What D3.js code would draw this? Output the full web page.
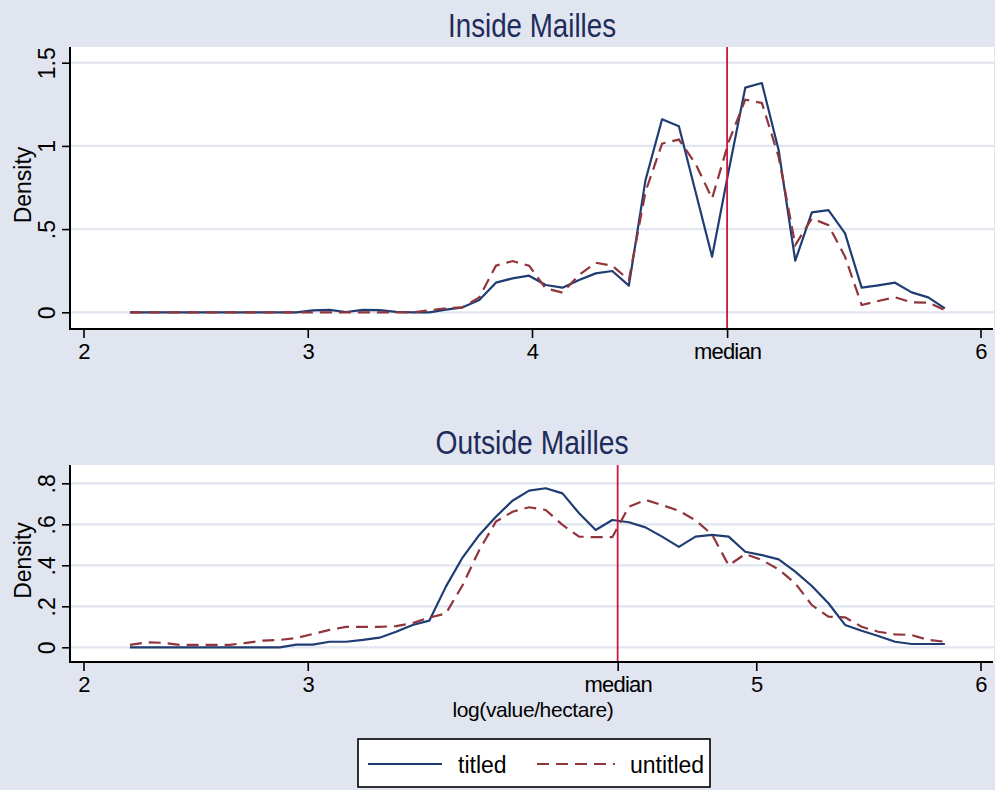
<!DOCTYPE html>
<html>
<head>
<meta charset="utf-8">
<script src="https://cdn.jsdelivr.net/npm/d3@7"></script>
<style>
	body { margin: 0; background: #e0e5ef; }
	svg { display: block; font-family: "Liberation Sans", Arial, sans-serif; }
</style>
</head>
<body>
<svg width="995" height="790"></svg>
<script>
// evaluation grid of the density estimates (log value per hectare)
var xGrid = [2.207, 2.282, 2.356, 2.430, 2.504, 2.578, 2.652, 2.727, 2.801, 2.875,
	2.949, 3.023, 3.097, 3.171, 3.246, 3.320, 3.394, 3.468, 3.542, 3.616,
	3.691, 3.765, 3.839, 3.913, 3.987, 4.061, 4.136, 4.210, 4.284, 4.358,
	4.432, 4.506, 4.580, 4.655, 4.729, 4.803, 4.877, 4.951, 5.025, 5.100,
	5.174, 5.248, 5.322, 5.396, 5.470, 5.544, 5.619, 5.693, 5.767, 5.841];

// inside mailles
var insideTitled = [0, 0, 0, 0, 0, 0, 0, 0, 0, 0,
	0, 0.012, 0.015, 0.002, 0.015, 0.013, 0.002, 0, 0, 0.016,
	0.03, 0.074, 0.178, 0.204, 0.22, 0.164, 0.148, 0.194, 0.234, 0.248,
	0.16, 0.794, 1.16, 1.118, 0.726, 0.334, 0.85, 1.35, 1.378, 0.974,
	0.31, 0.6, 0.614, 0.474, 0.148, 0.162, 0.178, 0.12, 0.09, 0.024];
var insideUntitled = [0, 0, 0, 0, 0, 0, 0, 0, 0, 0,
	0, 0, 0, 0, 0, 0, 0, 0, 0.012, 0.024,
	0.03, 0.09, 0.28, 0.308, 0.28, 0.144, 0.118, 0.224, 0.298, 0.28,
	0.194, 0.724, 1.014, 1.038, 0.894, 0.684, 1.024, 1.278, 1.258, 0.934,
	0.404, 0.564, 0.524, 0.334, 0.044, 0.068, 0.09, 0.06, 0.058, 0.014];

// outside mailles
var outsideTitled = [0, 0, 0, 0, 0, 0, 0, 0, 0, 0,
	0.013, 0.013, 0.027, 0.027, 0.036, 0.047, 0.076, 0.109, 0.13, 0.296,
	0.439, 0.548, 0.637, 0.715, 0.764, 0.776, 0.751, 0.654, 0.572, 0.621,
	0.61, 0.585, 0.54, 0.49, 0.54, 0.548, 0.54, 0.466, 0.45, 0.429,
	0.369, 0.299, 0.215, 0.109, 0.081, 0.055, 0.027, 0.016, 0.016, 0.016];
var outsideUntitled = [0.012, 0.024, 0.022, 0.012, 0.012, 0.012, 0.012, 0.022, 0.033, 0.036,
	0.045, 0.065, 0.085, 0.1, 0.1, 0.1, 0.103, 0.118, 0.145, 0.165,
	0.304, 0.475, 0.613, 0.661, 0.683, 0.67, 0.597, 0.54, 0.537, 0.537,
	0.686, 0.719, 0.694, 0.666, 0.62, 0.55, 0.40, 0.455, 0.426, 0.38,
	0.312, 0.206, 0.149, 0.146, 0.1, 0.076, 0.063, 0.06, 0.036, 0.027];

var insideMedian = 4.87;
var outsideMedian = 4.382;

var insideXTicks = [2, 3, 4, insideMedian, 6];
var insideXLabels = ["2", "3", "4", "median", "6"];
var outsideXTicks = [2, 3, outsideMedian, 5, 6];
var outsideXLabels = ["2", "3", "median", "5", "6"];
var insideYTicks = [0, 0.5, 1, 1.5];
var insideYLabels = ["0", ".5", "1", "1.5"];
var outsideYTicks = [0, 0.2, 0.4, 0.6, 0.8];
var outsideYLabels = ["0", ".2", ".4", ".6", ".8"];

var seriesNames = ["titled", "untitled"];

var colTitled = "#1f3d73",
	colUntitled = "#90353b",
	colMedian = "#d1173c",
	colGrid = "#e0e5ef",
	colTitle = "#1e2b5b";

var svg = d3.select("svg");

var x = d3.scaleLinear().domain([2, 6]).range([83.5, 980.5]);

var drawPanel = function(p) {
	var y = d3.scaleLinear().domain(p.yDomain).range(p.yRange);
	var g = svg.append("g");

	// plot region
	g.append("rect")
		.attr("x", 70).attr("y", p.top)
		.attr("width", 924).attr("height", p.bottom - p.top)
		.attr("fill", "#fff");

	// horizontal grid
	g.selectAll(".grid")
		.data(p.yTicks)
		.enter().append("line")
		.attr("x1", 71).attr("x2", 994)
		.attr("y1", function(d) { return y(d); })
		.attr("y2", function(d) { return y(d); })
		.attr("stroke", colGrid)
		.attr("stroke-width", 2.2);

	// title
	g.append("text")
		.attr("x", 532).attr("y", p.titleY)
		.attr("text-anchor", "middle")
		.attr("font-size", 33)
		.attr("fill", colTitle)
		.attr("textLength", p.titleLen)
		.attr("lengthAdjust", "spacingAndGlyphs")
		.text(p.title);

	// density lines
	var line = d3.line()
		.x(function(d, i) { return x(xGrid[i]); })
		.y(function(d) { return y(d); });

	g.append("path")
		.datum(p.titled)
		.attr("d", line)
		.attr("fill", "none")
		.attr("stroke", colTitled)
		.attr("stroke-width", 2.2)
		.attr("stroke-linejoin", "round");

	g.append("path")
		.datum(p.untitled)
		.attr("d", line)
		.attr("fill", "none")
		.attr("stroke", colUntitled)
		.attr("stroke-width", 2.2)
		.attr("stroke-dasharray", "12,7");

	// median line
	g.append("line")
		.attr("x1", x(p.median)).attr("x2", x(p.median))
		.attr("y1", p.top).attr("y2", p.bottom)
		.attr("stroke", colMedian)
		.attr("stroke-width", 1.8);

	// x axis
	var xAxis = g.append("g")
		.attr("transform", "translate(0," + p.bottom + ")")
		.call(d3.axisBottom(x)
			.tickValues(p.xTicks)
			.tickFormat(function(d, i) { return p.xLabels[i]; })
			.tickSize(9)
			.tickPadding(5));
	xAxis.select(".domain").remove();
	xAxis.selectAll("line").attr("stroke", "#000").attr("stroke-width", 1.6);
	xAxis.selectAll("text")
		.attr("font-size", 22)
		.attr("font-family", "Liberation Sans, Arial, sans-serif")
		.attr("letter-spacing", -0.8)
		.attr("fill", "#000");

	// y axis with vertical labels
	var yAxis = g.append("g")
		.attr("transform", "translate(70,0)")
		.call(d3.axisLeft(y)
			.tickValues(p.yTicks)
			.tickFormat(function(d, i) { return p.yLabels[i]; })
			.tickSize(8));
	yAxis.select(".domain").remove();
	yAxis.selectAll("line").attr("stroke", "#000").attr("stroke-width", 1.6);
	yAxis.selectAll("text")
		.attr("x", 0).attr("dy", 0)
		.attr("transform", "translate(-15,0) rotate(-90)")
		.attr("text-anchor", "middle")
		.attr("font-size", 23)
		.attr("font-family", "Liberation Sans, Arial, sans-serif")
		.attr("fill", "#000");

	// axis lines
	g.append("line")
		.attr("x1", 70).attr("x2", 993)
		.attr("y1", p.bottom).attr("y2", p.bottom)
		.attr("stroke", "#000").attr("stroke-width", 2);
	g.append("line")
		.attr("x1", 70).attr("x2", 70)
		.attr("y1", p.top).attr("y2", p.bottom + 1)
		.attr("stroke", "#000").attr("stroke-width", 2);

	// y title
	var cy = (p.top + p.bottom) / 2 - 3;
	g.append("text")
		.attr("transform", "translate(31," + cy + ") rotate(-90)")
		.attr("text-anchor", "middle")
		.attr("font-size", 23)
		.attr("fill", "#000")
		.text("Density");
};

drawPanel({
	title: "Inside Mailles", titleY: 37, titleLen: 168,
	top: 47, bottom: 329,
	yDomain: [0, 1.5], yRange: [312.3, 62.7],
	yTicks: insideYTicks, yLabels: insideYLabels,
	xTicks: insideXTicks, xLabels: insideXLabels,
	titled: insideTitled, untitled: insideUntitled,
	median: insideMedian
});

drawPanel({
	title: "Outside Mailles", titleY: 454, titleLen: 193,
	top: 465, bottom: 662,
	yDomain: [0, 0.8], yRange: [647.3, 483.3],
	yTicks: outsideYTicks, yLabels: outsideYLabels,
	xTicks: outsideXTicks, xLabels: outsideXLabels,
	titled: outsideTitled, untitled: outsideUntitled,
	median: outsideMedian
});

// x title
svg.append("text")
	.attr("x", 533).attr("y", 717)
	.attr("text-anchor", "middle")
	.attr("font-size", 21)
	.attr("letter-spacing", -0.4)
	.text("log(value/hectare)");

// legend
var legend = svg.append("g");
legend.append("rect")
	.attr("x", 358).attr("y", 739)
	.attr("width", 352).attr("height", 48)
	.attr("fill", "#fff")
	.attr("stroke", "#000")
	.attr("stroke-width", 1.6);

var legendItems = [
	{ name: seriesNames[0], color: colTitled, dash: null, x0: 368, x1: 442, tx: 458 },
	{ name: seriesNames[1], color: colUntitled, dash: "12,7", x0: 537, x1: 615, tx: 630 }
];
legend.selectAll(".lg-line")
	.data(legendItems)
	.enter().append("line")
	.attr("x1", function(d) { return d.x0; })
	.attr("x2", function(d) { return d.x1; })
	.attr("y1", 764).attr("y2", 764)
	.attr("stroke", function(d) { return d.color; })
	.attr("stroke-width", 2.2)
	.attr("stroke-dasharray", function(d) { return d.dash; });
legend.selectAll(".lg-text")
	.data(legendItems)
	.enter().append("text")
	.attr("x", function(d) { return d.tx; })
	.attr("y", 772.5)
	.attr("font-size", 23)
	.text(function(d) { return d.name; });
</script>
</body>
</html>
